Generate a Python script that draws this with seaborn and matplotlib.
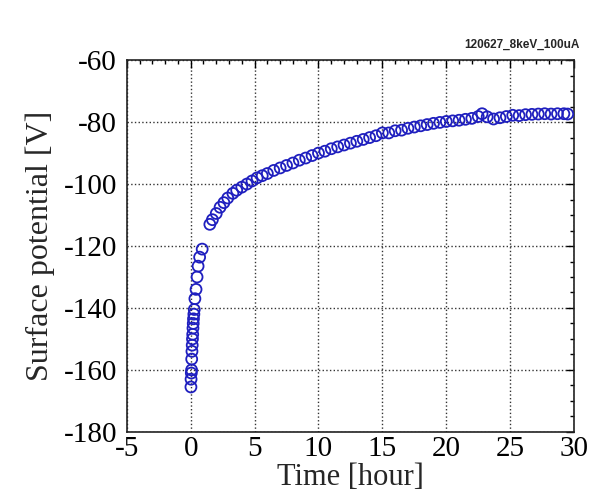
import matplotlib
matplotlib.use("Agg")
import matplotlib.pyplot as plt
from matplotlib.ticker import MultipleLocator
import seaborn as sns
import pandas as pd

# surface potential vs time
time_h = [0.02, 0.03, 0.05, 0.07, 0.08, 0.10, 0.12, 0.14, 0.16, 0.18,
          0.20, 0.22, 0.25, 0.28, 0.33, 0.42, 0.50, 0.58, 0.70, 0.90,
          1.5, 1.7, 2.0, 2.3, 2.6, 2.9, 3.3, 3.6, 4.0, 4.4,
          4.8, 5.2, 5.6, 6.0, 6.5, 7.0, 7.5, 8.0, 8.5, 9.0,
          9.5, 10.0, 10.5, 11.0, 11.5, 12.0, 12.5, 13.0, 13.5, 14.0,
          14.5, 15.0, 15.5, 16.0, 16.5, 17.0, 17.5, 18.0, 18.5, 19.0,
          19.5, 20.0, 20.5, 21.0, 21.5, 22.0, 22.5, 22.8, 23.2, 23.7,
          24.2, 24.7, 25.2, 25.7, 26.2, 26.7, 27.2, 27.7, 28.2, 28.7,
          29.2, 29.5]
potential_v = [-165.5, -163, -161, -160, -156.5, -154, -152, -150, -148.5, -146.5,
               -145, -143.5, -142, -140.5, -137, -134, -130, -126.5, -123.6, -121,
               -113, -111.5, -109.5, -107.5, -106, -104.5, -103, -102, -101, -100,
               -99, -98, -97.3, -96.6, -95.6, -94.8, -94, -93.2, -92.3, -91.6,
               -90.8, -90, -89.4, -88.6, -88, -87.4, -86.8, -86.2, -85.6, -85,
               -84.4, -83.5, -83.5, -82.8, -82.6, -82, -81.6, -81.2, -80.8, -80.4,
               -80.1, -79.8, -79.6, -79.4, -79.1, -78.8, -78.2, -77.3, -78.3, -79,
               -78.6, -78.2, -77.8, -77.9, -77.6, -77.5, -77.4, -77.3, -77.4, -77.3,
               -77.3, -77.4]

x_ticks = [-5, 0, 5, 10, 15, 20, 25, 30]
y_ticks = [-180, -160, -140, -120, -100, -80, -60]

df = pd.DataFrame({"time": time_h, "potential": potential_v})

sns.set_theme(style="white")
plt.rcParams["font.family"] = ["Liberation Serif", "DejaVu Serif"]
plt.rcParams["axes.unicode_minus"] = False

fig = plt.figure(figsize=(5.98, 4.97), dpi=100)
ax = fig.add_axes([0.212, 0.131, 0.748, 0.748])

sns.scatterplot(data=df, x="time", y="potential", ax=ax, marker="o", s=62,
                facecolors="none", edgecolor="#1f1fbf", linewidth=1.3, zorder=3)

ax.set_xlim(-5, 30)
ax.set_ylim(-180, -60)
ax.set_xticks(x_ticks)
ax.set_yticks(y_ticks)
ax.xaxis.set_minor_locator(MultipleLocator(1))
ax.yaxis.set_minor_locator(MultipleLocator(5))
ax.tick_params(which="both", direction="in", top=True, right=True,
               labelsize=21, colors="black")
ax.tick_params(axis="y", which="major", pad=7)
ax.tick_params(axis="x", which="major", pad=3)
ax.tick_params(which="major", length=6, width=1)
ax.tick_params(which="minor", length=3, width=1)
ax.grid(True, which="major", linestyle=":", color="#333333", linewidth=1)

for sp in ax.spines.values():
    sp.set_color("#222222")
    sp.set_linewidth(1.2)

ax.set_xlabel("Time [hour]", fontsize=22, labelpad=1)
ax.set_ylabel("Surface potential [V]", fontsize=23, labelpad=6)

fig.text(0.97, 0.898, "120627_8keV_100uA", ha="right", va="bottom",
         fontsize=8.5, fontweight="bold", family=["Liberation Sans", "DejaVu Sans"])

fig.savefig("out.png", dpi=100)
